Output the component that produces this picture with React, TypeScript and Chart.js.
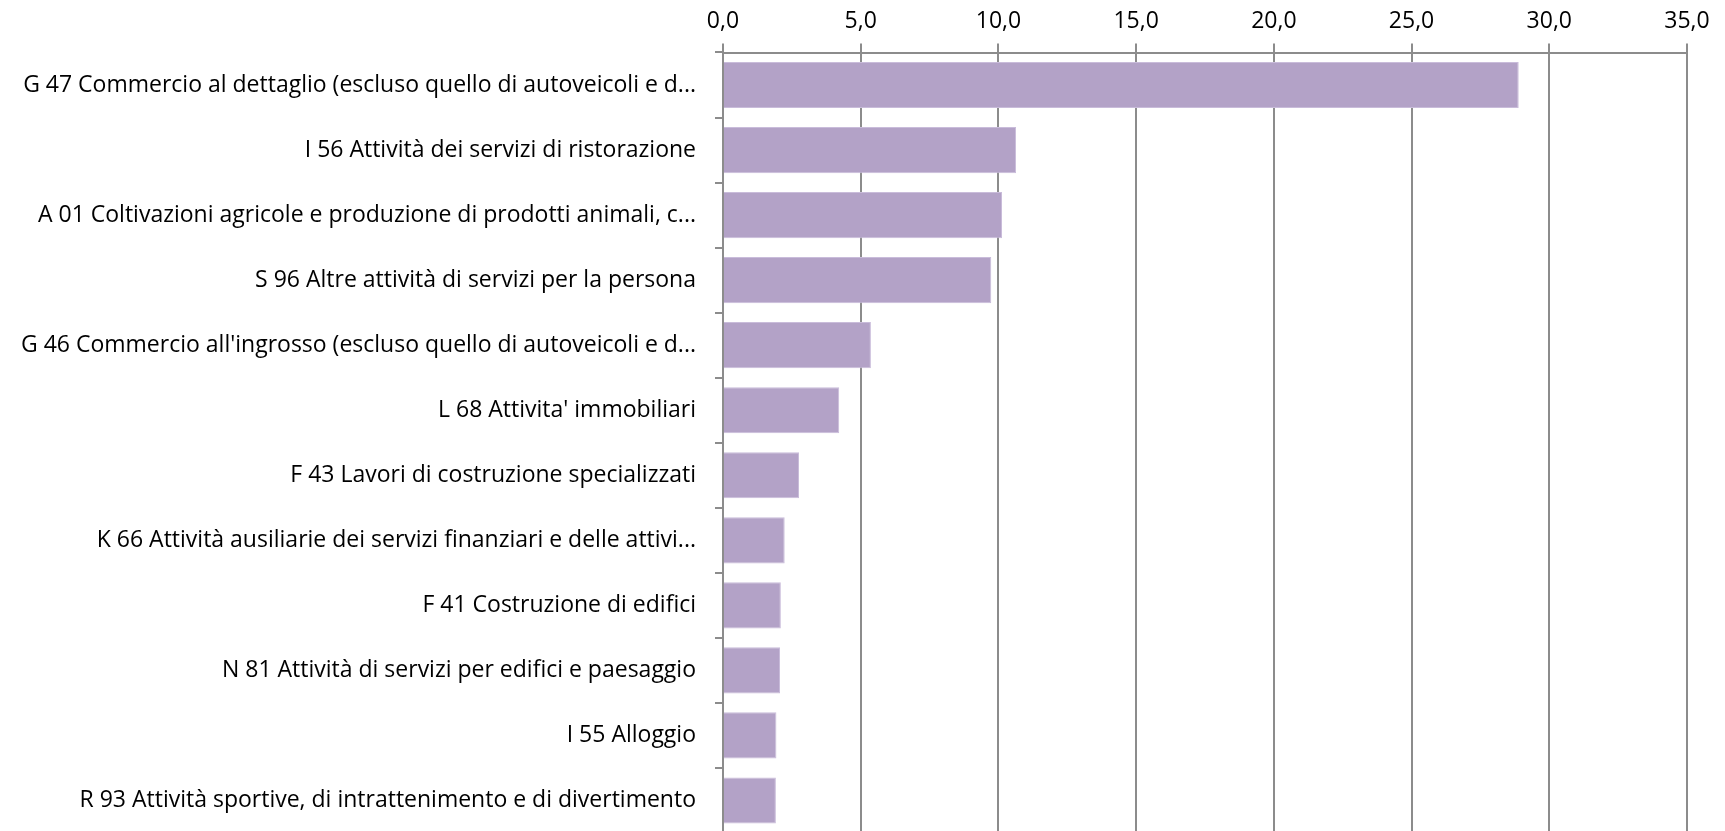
import React, { useEffect, useRef } from "react";
import { Chart, registerables } from "chart.js";

Chart.register(...registerables);

const categories = [
  "G 47 Commercio al dettaglio (escluso quello di autoveicoli e d...",
  "I 56 Attività dei servizi di ristorazione",
  "A 01 Coltivazioni agricole e produzione di prodotti animali, c...",
  "S 96 Altre attività di servizi per la persona",
  "G 46 Commercio all'ingrosso (escluso quello di autoveicoli e d...",
  "L 68 Attivita' immobiliari",
  "F 43 Lavori di costruzione specializzati",
  "K 66 Attività ausiliarie dei servizi finanziari e delle attivi...",
  "F 41 Costruzione di edifici",
  "N 81 Attività di servizi per edifici e paesaggio",
  "I 55 Alloggio",
  "R 93 Attività sportive, di intrattenimento e di divertimento",
];

const values = [28.89, 10.64, 10.13, 9.74, 5.37, 4.22, 2.76, 2.24, 2.1, 2.07, 1.94, 1.92];

const axisMin = 0;
const axisMax = 35;
const axisStep = 5;

const FONT = "'Open Sans'";
const GRID = "#8c8c8c";

export default function App() {
  const ref = useRef<HTMLCanvasElement | null>(null);

  useEffect(() => {
    if (!ref.current) return;
    const chart = new Chart(ref.current, {
      type: "bar",
      data: {
        labels: categories,
        datasets: [
          {
            data: values,
            backgroundColor: "#b3a2c7",
            borderColor: "#c9bcda",
            borderWidth: 1,
            categoryPercentage: 1,
            barPercentage: 0.71,
          },
        ],
      },
      options: {
        indexAxis: "y",
        animation: false,
        responsive: false,
        devicePixelRatio: 1,
        layout: { padding: { left: 0, top: 0, right: 0, bottom: 0 } },
        plugins: {
          legend: { display: false },
          tooltip: { enabled: false },
          title: { display: false },
        },
        scales: {
          x: {
            position: "top",
            min: axisMin,
            max: axisMax,
            ticks: {
              stepSize: axisStep,
              color: "#000",
              font: { family: FONT, size: 23 },
              padding: 8,
              callback: (v: any) => Number(v).toFixed(1).replace(".", ","),
            },
            grid: {
              color: GRID,
              lineWidth: 2,
              drawOnChartArea: true,
              drawTicks: true,
              tickLength: 9,
            },
            border: { display: true, color: GRID, width: 2 },
            afterFit: (scale: any) => {
              scale.height = 52.5;
              scale.paddingLeft = 0;
              scale.paddingRight = 38;
            },
          },
          y: {
            position: "left",
            ticks: {
              color: "#000",
              font: { family: FONT, size: 23 },
              padding: 19,
              autoSkip: false,
            },
            grid: {
              offset: true,
              color: GRID,
              lineWidth: 2,
              drawOnChartArea: false,
              drawTicks: true,
              tickLength: 8,
            },
            border: { display: true, color: GRID, width: 2 },
            afterFit: (scale: any) => {
              scale.width = 723;
              scale.paddingTop = 0;
              scale.paddingBottom = 0;
            },
          },
        },
      },
    });
    return () => chart.destroy();
  }, []);

  return (
    <div
      style={{
        position: "fixed",
        left: 0,
        top: 0,
        width: 1725,
        height: 831,
        overflow: "hidden",
        background: "#fff",
      }}
    >
      <canvas ref={ref} width={1725} height={833} style={{ display: "block" }} />
    </div>
  );
}
